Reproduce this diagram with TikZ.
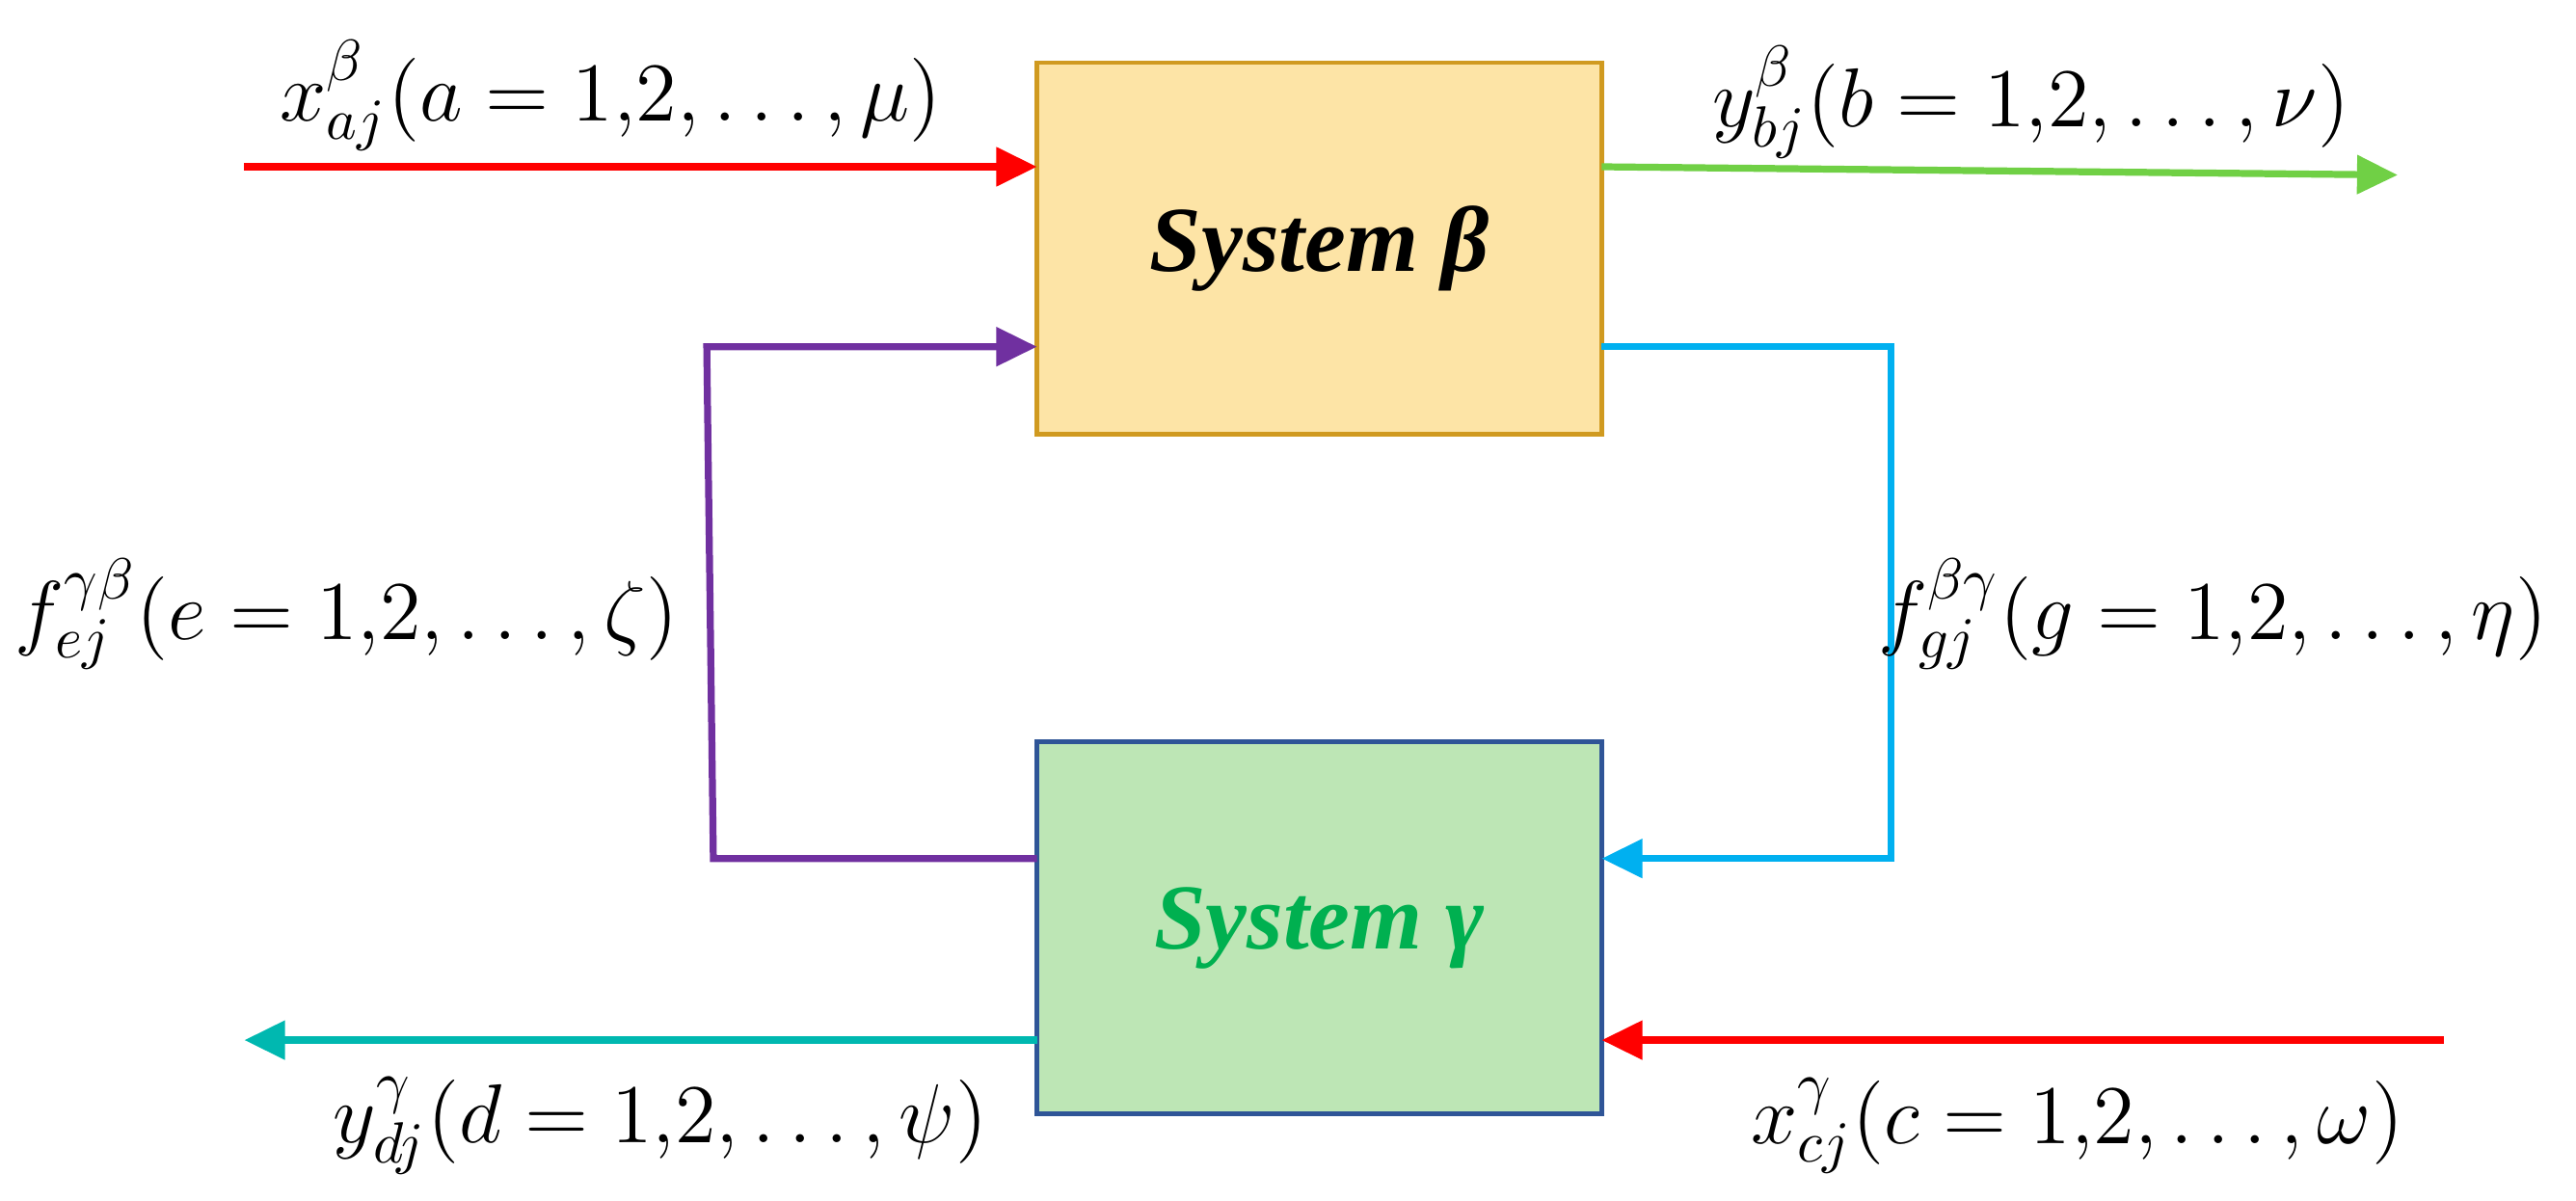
\documentclass[tikz,border=0pt]{standalone}
\usepackage{fontspec}
\setmainfont{Liberation Serif}
\usetikzlibrary{arrows.meta}
\definecolor{bfill}{HTML}{FDE4A6}
\definecolor{bdraw}{HTML}{D09A20}
\definecolor{gfill}{HTML}{BDE6B5}
\definecolor{gdraw}{HTML}{2F5597}
\definecolor{cred}{HTML}{FF0000}
\definecolor{cgreen}{HTML}{70D045}
\definecolor{cpurple}{HTML}{7030A0}
\definecolor{cblue}{HTML}{00B0F0}
\definecolor{cteal}{HTML}{00B8B0}
\definecolor{ctext}{HTML}{00B050}
\begin{document}
\begin{tikzpicture}[x=0.01cm,y=-0.01cm,
  box/.style={draw,line width=0.8pt,minimum width=3.42cm,minimum height=2.25cm,inner sep=0,font=\fontsize{16}{19}\selectfont\bfseries\itshape},
  flow/.style={line width=1.2pt,-{Triangle[length=7pt,width=6.5pt]}},
  lab/.style={font=\fontsize{14}{17}\selectfont}]
\useasboundingbox (0,0) rectangle (1560,727);
\node[box,draw=bdraw,fill=bfill] (beta) at (799,150.5) {System β};
\node[box,draw=gdraw,fill=gfill,text=ctext] (gamma) at (799,562) {System γ};
\coordinate (a1) at (148,101); \coordinate (a2) at (628,101);
\coordinate (b1) at (970,101); \coordinate (b2) at (1452,106);
\coordinate (p1) at (628,520); \coordinate (p2) at (432,520); \coordinate (p3) at (428,210); \coordinate (p4) at (628,210);
\coordinate (q1) at (970,210); \coordinate (q2) at (1145,210); \coordinate (q3) at (1145,520); \coordinate (q4) at (970,520);
\coordinate (t1) at (628,630); \coordinate (t2) at (148,630);
\coordinate (r1) at (1480,630); \coordinate (r2) at (970,630);
\draw[flow,cred] (a1) -- (a2);
\draw[flow,cgreen] (b1) -- (b2);
\draw[flow,cpurple] (p1) -- (p2) -- (p3) -- (p4);
\draw[flow,cblue] (q1) -- (q2) -- (q3) -- (q4);
\draw[flow,cteal] (t1) -- (t2);
\draw[flow,cred] (r1) -- (r2);
\node[lab] (la) at (370,58) {$x^{\beta}_{aj}(a=1{,}2,\ldots,\mu)$};
\node[lab] (lb) at (1230,62) {$y^{\beta}_{bj}(b=1{,}2,\ldots,\nu)$};
\node[lab] (le) at (210,372) {$f^{\gamma\beta}_{ej}(e=1{,}2,\ldots,\zeta)$};
\node[lab] (lg) at (1340,372) {$f^{\beta\gamma}_{gj}(g=1{,}2,\ldots,\eta)$};
\node[lab] (ld) at (400,682) {$y^{\gamma}_{dj}(d=1{,}2,\ldots,\psi)$};
\node[lab] (lc) at (1258,682) {$x^{\gamma}_{cj}(c=1{,}2,\ldots,\omega)$};
\end{tikzpicture}
\end{document}
